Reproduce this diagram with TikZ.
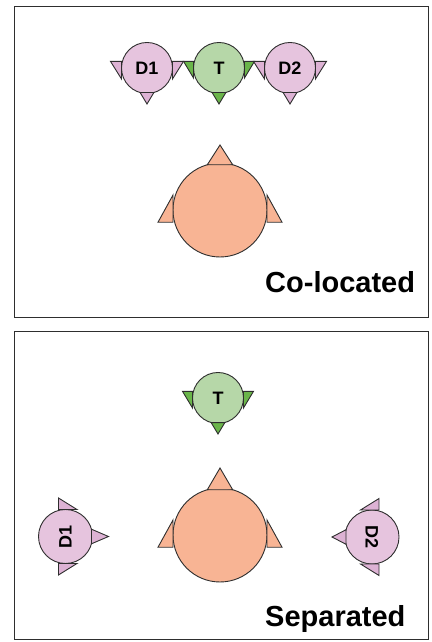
\documentclass[tikz,border=0pt]{standalone}
\usepackage{fontspec}
\setmainfont{Liberation Sans}
\usepackage{graphicx}
\definecolor{outl}{HTML}{2E2E2E}
\definecolor{bodyD}{HTML}{E6C4DE}
\definecolor{partD}{HTML}{DDB2D4}
\definecolor{bodyT}{HTML}{B6D7A8}
\definecolor{partT}{HTML}{6AB54A}
\definecolor{bodyO}{HTML}{F8B494}
\definecolor{partO}{HTML}{F8B494}
\definecolor{shadowgray}{HTML}{7A7A7A}
\tikzset{
  headbody/.style={circle,draw=outl,line width=0.9pt,inner sep=0pt,
    font=\bfseries\fontsize{18}{21}\selectfont},
  headpart/.style={draw=outl,line width=0.9pt,line join=miter},
  panel/.style={draw=outl,line width=0.8pt},
  panelshadow/.style={draw=shadowgray,line width=1.4pt},
  caption/.style={anchor=base west,inner sep=0pt,
    font=\bfseries\fontsize{29}{33}\selectfont}
}
\newcommand\headicon[9]{%
\begin{scope}[shift={(#2,#3)},rotate=#4]
\node[headbody,fill=body#8,minimum size={2*#5pt}] (#1) at (0,0) {#9};
\draw[headpart,fill=part#8] (-#5,-0.26*#5) -- (-#5-#6,-0.26*#5) -- (-#5,#6) -- cycle;
\draw[headpart,fill=part#8] (#5,-0.26*#5) -- (#5+#6,-0.26*#5) -- (#5,#6) -- cycle;
\draw[headpart,fill=part#8] (-0.27*#5,0.963*#5) -- (0,#7) -- (0.27*#5,0.963*#5) -- cycle;
\end{scope}}
\begin{document}
\begin{tikzpicture}[x=1pt,y=1pt]
\useasboundingbox (0,0) rectangle (431,642);
% panels
\draw[panelshadow] (15,324.3) -- (428.7,324.3) -- (428.7,636);
\draw[panel] (14,325) rectangle (428,636);
\draw[panelshadow] (15,2.3) -- (428.7,2.3) -- (428.7,311);
\draw[panel] (14,3) rectangle (428,311);
% top panel
\headicon{d1a}{147}{574}{180}{25.5}{11}{36}{D}{D1}
\headicon{ta}{219}{574}{180}{25.5}{10}{36}{T}{T}
\headicon{d2a}{290}{574}{180}{25.5}{11}{36}{D}{D2}
\headicon{ha}{220}{432}{0}{47}{15}{65}{O}{}
\node[caption] (colab) at (265,349) {Co-located};
% bottom panel
\headicon{tb}{218}{244}{180}{25.5}{10}{36}{T}{T}
\headicon{hb}{220}{107}{0}{47}{15}{67}{O}{}
\headicon{d1b}{65.5}{105.5}{-90}{27}{11.5}{43}{D}{\rotatebox{90}{D1}}
\headicon{d2b}{372}{105}{90}{27}{11.5}{40}{D}{\rotatebox{-90}{D2}}
\node[caption] (seplab) at (265,15) {Separated};
\end{tikzpicture}
\end{document}
